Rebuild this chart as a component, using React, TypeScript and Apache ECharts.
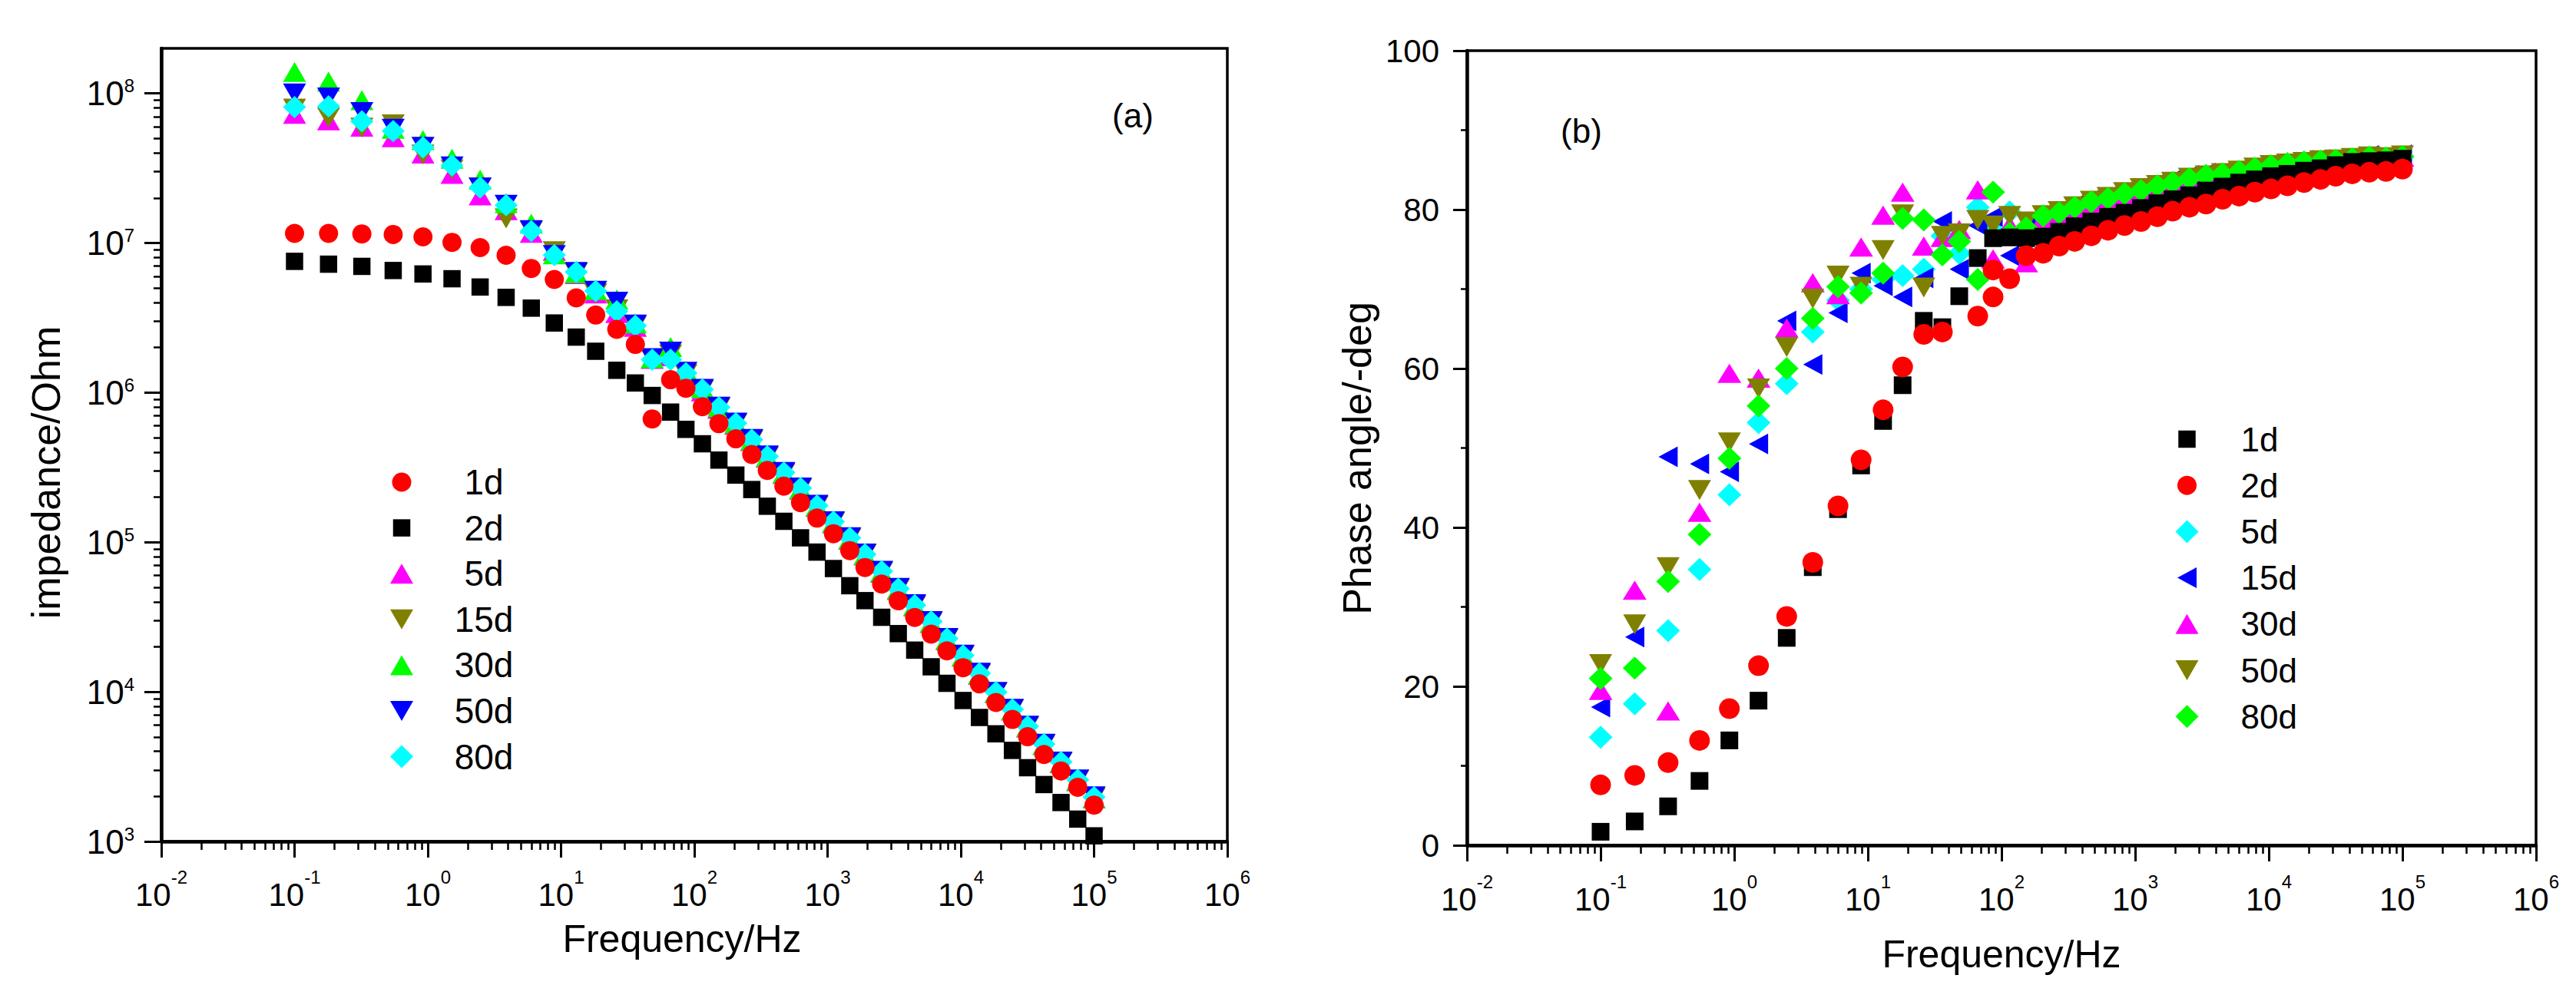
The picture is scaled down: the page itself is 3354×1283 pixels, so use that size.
import React, { useEffect, useRef } from 'react';
import * as echarts from 'echarts';

// ---------- shared frequency list (Hz) ----------
const freq = [0.1, 0.18, 0.32, 0.55, 0.92, 1.52, 2.47, 3.87, 5.98, 8.9, 13.0, 18.2, 26.2, 36.1, 48.3, 66.4, 86.5, 115, 153, 205, 270, 353, 470, 627, 833, 1107, 1468, 1909, 2548, 3394, 4509, 5995, 7870, 10400, 13800, 18350, 24400, 31700, 42100, 56500, 75400, 100000];

// ---------- panel (a): |Z| / Ohm ----------
const imp1d = [1.16e7, 1.16e7, 1.15e7, 1.14e7, 1.10e7, 1.01e7, 9.32e6, 8.28e6, 6.76e6, 5.71e6, 4.30e6, 3.30e6, 2.65e6, 2.10e6, 6.67e5, 1.22e6, 1.07e6, 8.05e5, 6.20e5, 4.91e5, 3.86e5, 3.02e5, 2.37e5, 1.84e5, 1.45e5, 1.14e5, 8.79e4, 6.78e4, 5.25e4, 4.06e4, 3.14e4, 2.43e4, 1.88e4, 1.45e4, 1.13e4, 8.49e3, 6.54e3, 5.01e3, 3.81e3, 2.96e3, 2.30e3, 1.75e3];
const imp2d = [7.54e6, 7.22e6, 6.98e6, 6.55e6, 6.21e6, 5.77e6, 5.08e6, 4.33e6, 3.67e6, 2.92e6, 2.35e6, 1.89e6, 1.41e6, 1.16e6, 9.57e5, 7.41e5, 5.68e5, 4.55e5, 3.54e5, 2.81e5, 2.25e5, 1.74e5, 1.38e5, 1.07e5, 8.59e4, 6.67e4, 5.12e4, 4.07e4, 3.15e4, 2.45e4, 1.90e4, 1.47e4, 1.14e4, 8.75e3, 6.74e3, 5.24e3, 4.06e3, 3.11e3, 2.40e3, 1.82e3, 1.41e3, 1.09e3];
const imp5d = [7.3e7, 6.6e7, 6.0e7, 5.1e7, 3.96e7, 2.9e7, 2.08e7, 1.66e7, 1.17e7, 8.85e6, 6.2e6, 4.6e6, 3.4e6, 2.75e6, 1.68e6, 1.75e6, 1.3e6, 1.02e6, 7.8e5, 6.1e5, 4.75e5, 3.68e5, 2.86e5, 2.25e5, 1.72e5, 1.34e5, 1.04e5, 8.15e4, 6.25e4, 4.8e4, 3.73e4, 2.88e4, 2.22e4, 1.72e4, 1.3e4, 9.8e3, 7.5e3, 5.78e3, 4.4e3, 3.34e3, 2.53e3, 1.94e3];
const imp15d = [7.9e7, 6.9e7, 5.9e7, 6.2e7, 3.9e7, 3.1e7, 2.35e7, 1.46e7, 1.2e7, 8.8e6, 6.3e6, 4.6e6, 3.6e6, 2.8e6, 1.68e6, 1.8e6, 1.33e6, 1.04e6, 7.9e5, 6.2e5, 4.8e5, 3.74e5, 2.9e5, 2.28e5, 1.75e5, 1.36e5, 1.06e5, 8.3e4, 6.35e4, 4.88e4, 3.78e4, 2.93e4, 2.26e4, 1.75e4, 1.32e4, 9.9e3, 7.6e3, 5.86e3, 4.45e3, 3.38e3, 2.57e3, 1.96e3];
const imp30d = [1.39e8, 1.2e8, 9.0e7, 5.8e7, 4.87e7, 3.66e7, 2.65e7, 1.85e7, 1.35e7, 8.4e6, 6.3e6, 4.85e6, 4.2e6, 2.9e6, 1.7e6, 2.02e6, 1.4e6, 1.07e6, 8.0e5, 6.2e5, 4.8e5, 3.72e5, 2.88e5, 2.27e5, 1.74e5, 1.35e5, 1.05e5, 8.2e4, 6.3e4, 4.85e4, 3.76e4, 2.9e4, 2.24e4, 1.73e4, 1.31e4, 9.85e3, 7.55e3, 5.82e3, 4.42e3, 3.36e3, 2.55e3, 1.95e3];
const imp50d = [1.0e8, 9.4e7, 7.5e7, 5.8e7, 4.4e7, 3.25e7, 2.35e7, 1.8e7, 1.22e7, 8.3e6, 6.4e6, 4.8e6, 4.05e6, 2.85e6, 1.7e6, 1.88e6, 1.38e6, 1.06e6, 8.05e5, 6.3e5, 4.9e5, 3.8e5, 2.95e5, 2.32e5, 1.78e5, 1.38e5, 1.08e5, 8.4e4, 6.45e4, 4.95e4, 3.85e4, 2.97e4, 2.29e4, 1.77e4, 1.34e4, 1.0e4, 7.7e3, 5.93e3, 4.5e3, 3.42e3, 2.6e3, 2.0e3];
const imp80d = [8.1e7, 8.2e7, 6.5e7, 5.6e7, 4.36e7, 3.3e7, 2.35e7, 1.79e7, 1.2e7, 8.3e6, 6.4e6, 4.78e6, 3.49e6, 2.8e6, 1.66e6, 1.66e6, 1.35e6, 1.05e6, 7.98e5, 6.25e5, 4.85e5, 3.76e5, 2.92e5, 2.3e5, 1.76e5, 1.37e5, 1.07e5, 8.3e4, 6.4e4, 4.9e4, 3.8e4, 2.95e4, 2.27e4, 1.75e4, 1.33e4, 9.97e3, 7.64e3, 5.89e3, 4.47e3, 3.4e3, 2.58e3, 1.98e3];

// ---------- panel (b): phase angle / -deg ----------
const phase1d = [1.7, 3.0, 4.9, 8.1, 13.2, 18.2, 26.1, 35.0, 42.3, 47.8, 53.4, 57.9, 66.0, 65.2, 69.1, 73.9, 76.4, 76.5, 76.4, 76.6, 77.2, 77.9, 78.5, 79.1, 79.6, 80.2, 80.8, 81.3, 81.8, 82.4, 82.9, 83.4, 83.8, 84.2, 84.5, 84.9, 85.2, 85.6, 86.0, 86.1, 86.2, 86.4];
const phase2d: (number | null)[] = [7.6, 8.8, 10.4, 13.2, 17.2, 22.6, 28.8, 35.6, 42.7, 48.5, 54.8, 60.2, 64.3, 64.6, null, 66.6, 69.0, 71.3, 74.2, 74.5, 75.4, 76.0, 76.7, 77.4, 78.0, 78.5, 79.1, 79.8, 80.3, 80.7, 81.3, 81.7, 82.2, 82.6, 83.0, 83.4, 83.8, 84.2, 84.5, 84.7, 84.8, 85.1];
const phase2dRepeat: [number, number][] = [[86.5, 72.4]];
const phase5d = [13.6, 17.8, 27.0, 34.7, 44.1, 53.2, 58.1, 64.6, 68.6, 70.0, 71.2, 71.7, 72.5, 76.7, 74.5, 80.3, 77.4, 79.7, 77.5, 78.8, 79.3, 80.0, 80.7, 81.2, 81.8, 82.2, 82.8, 83.2, 83.7, 84.1, 84.4, 84.7, 85.1, 85.4, 85.7, 85.9, 86.0, 86.1, 86.3, 86.5, 86.4, 86.6];
const phase15d = [17.4, 26.2, 48.9, 48.0, 47.0, 50.5, 66.0, 60.5, 67.0, 72.0, 70.4, 69.0, 71.4, 78.5, 72.5, 78.0, 79.1, 74.2, 78.0, 79.4, 79.9, 80.6, 81.3, 81.7, 82.3, 82.8, 83.4, 83.8, 84.3, 84.6, 84.8, 85.1, 85.4, 85.7, 86.0, 86.2, 86.3, 86.4, 86.6, 86.8, 86.7, 86.9];
const phase30d = [19.5, 32.1, 16.9, 41.9, 59.4, 58.8, 65.1, 70.8, 69.3, 75.3, 79.3, 82.2, 75.4, 76.5, 77.5, 82.5, 73.8, 78.0, 73.3, 78.8, 79.2, 79.9, 80.6, 81.0, 81.6, 82.0, 82.6, 83.0, 83.5, 83.9, 84.2, 84.5, 84.9, 85.2, 85.5, 85.8, 85.9, 86.1, 86.3, 86.5, 86.4, 86.6];
const phase50d = [22.8, 27.8, 35.0, 44.7, 50.7, 57.5, 62.7, 68.8, 71.7, 70.3, 74.9, 79.4, 70.2, 76.7, 77.0, 78.7, 78.0, 79.2, 78.5, 79.3, 79.8, 80.4, 81.1, 81.6, 82.2, 82.7, 83.1, 83.5, 84.0, 84.3, 84.6, 84.9, 85.3, 85.6, 85.8, 86.0, 86.2, 86.3, 86.5, 86.7, 86.6, 86.8];
const phase80d = [21.0, 22.3, 33.2, 39.1, 48.7, 55.3, 60.0, 66.3, 70.3, 69.5, 72.0, 78.9, 78.7, 74.3, 76.0, 71.2, 82.2, 77.0, 77.7, 79.2, 79.6, 80.3, 81.0, 81.4, 82.0, 82.4, 83.0, 83.4, 83.9, 84.3, 84.5, 84.8, 85.2, 85.5, 85.8, 86.0, 86.1, 86.2, 86.4, 86.6, 86.5, 86.7];

// ---------- tick values / labels ----------
const freqTicks = [1e-2, 1e-1, 1, 1e1, 1e2, 1e3, 1e4, 1e5, 1e6];
const impTicks = [1e3, 1e4, 1e5, 1e6, 1e7, 1e8];
const legendNames = ['1d', '2d', '5d', '15d', '30d', '50d', '80d'];

const FONT = '"Liberation Sans", Arial, Helvetica, sans-serif';

const ICON = {
  circle: 'path://M0,0M30,30M2.5,15A12.5,12.5,0,1,1,27.5,15A12.5,12.5,0,1,1,2.5,15Z',
  square: 'path://M0,0M30,30M3.75,3.75H26.25V26.25H3.75Z',
  up: 'path://M0,0M30,30M15,2L30,28H0Z',
  down: 'path://M0,0M30,30M0,2H30L15,28Z',
  diamond: 'path://M15,0L30,15L15,30L0,15Z',
  left: 'path://M0,0M30,30M2.5,15L27.5,1.5V28.5Z',
};

function pairs(xs: number[], ys: (number | null)[]): [number, number][] {
  const out: [number, number][] = [];
  xs.forEach((x, i) => {
    const y = ys[i];
    if (y != null) out.push([x, y]);
  });
  return out;
}

function logLabel(v: number): string {
  const l = Math.log10(v);
  const e = Math.round(l);
  if (Math.abs(l - e) > 1e-6) return '';
  return '{b|10}{s|' + e + '}';
}

function sc(name: string, data: any[], color: string, symbol: string, size: any, rotate = 0) {
  return {
    type: 'scatter',
    name,
    data,
    symbol,
    symbolSize: size,
    symbolRotate: rotate,
    itemStyle: { color, opacity: 1 },
    clip: false,
    silent: true,
    emphasis: { disabled: true },
  };
}

const axisLineStyle = { show: true, onZero: false, lineStyle: { color: '#000', width: 4.5 } };

function freqAxis(margin: number, nameGap: number, namePadding: number[]) {
  return {
    type: 'log',
    logBase: 10,
    min: 0.01,
    max: 1e6,
    splitNumber: 8,
    name: 'Frequency/Hz',
    nameLocation: 'middle',
    nameGap,
    nameTextStyle: { fontFamily: FONT, fontSize: 50, color: '#000', padding: namePadding },
    axisLine: axisLineStyle,
    axisTick: { show: true, inside: false, length: 21, lineStyle: { color: '#000', width: 3 }, customValues: freqTicks },
    minorTick: { show: true, splitNumber: 9, length: 11, lineStyle: { color: '#000', width: 2.5 } },
    axisLabel: {
      show: true,
      margin,
      formatter: logLabel,
      customValues: freqTicks,
      rich: {
        b: { fontFamily: FONT, fontSize: 42, lineHeight: 56, verticalAlign: 'bottom', color: '#000' },
        s: { fontFamily: FONT, fontSize: 24, lineHeight: 24, verticalAlign: 'top', color: '#000' },
      },
    },
    splitLine: { show: false },
    minorSplitLine: { show: false },
  };
}

const optionA: any = {
  animation: false,
  backgroundColor: '#fff',
  grid: { left: 210, top: 63, width: 1388, height: 1033, show: true, borderColor: '#000', borderWidth: 3.5, backgroundColor: 'transparent' },
  xAxis: freqAxis(34, 102, [0, 32, 0, 0]),
  yAxis: {
    type: 'log',
    logBase: 10,
    min: 1e3,
    max: 2e8,
    splitNumber: 5,
    name: 'impedance/Ohm',
    nameLocation: 'middle',
    nameGap: 124,
    nameTextStyle: { fontFamily: FONT, fontSize: 52, color: '#000', padding: [0, 72, 0, 0] },
    axisLine: axisLineStyle,
    axisTick: { show: true, inside: false, length: 22, lineStyle: { color: '#000', width: 3 }, customValues: impTicks },
    minorTick: { show: true, splitNumber: 9, length: 10, lineStyle: { color: '#000', width: 2.5 } },
    axisLabel: {
      show: true,
      margin: 35,
      formatter: logLabel,
      customValues: impTicks,
      rich: {
        b: { fontFamily: FONT, fontSize: 44, lineHeight: 44, color: '#000' },
        s: { fontFamily: FONT, fontSize: 24, lineHeight: 24, verticalAlign: 'top', color: '#000' },
      },
    },
    splitLine: { show: false },
    minorSplitLine: { show: false },
  },
  legend: {
    orient: 'vertical',
    left: 503,
    top: 600,
    itemWidth: 30,
    itemHeight: 30,
    itemGap: 13.6,
    symbolRotate: 0,
    selectedMode: false,
    formatter: '{t|{name}}',
    textStyle: {
      color: '#000',
      rich: { t: { fontFamily: FONT, fontSize: 46, lineHeight: 30, width: 174, align: 'center', color: '#000' } },
    },
    data: [
      { name: '1d', icon: ICON.circle, symbolRotate: 0 },
      { name: '2d', icon: ICON.square, symbolRotate: 0 },
      { name: '5d', icon: ICON.up, symbolRotate: 0 },
      { name: '15d', icon: ICON.down, symbolRotate: 0 },
      { name: '30d', icon: ICON.up, symbolRotate: 0 },
      { name: '50d', icon: ICON.down, symbolRotate: 0 },
      { name: '80d', icon: ICON.diamond, symbolRotate: 0 },
    ],
  },
  graphic: [
    {
      type: 'text',
      x: 1475,
      y: 150,
      style: { text: '(a)', fontFamily: FONT, fontSize: 44, fill: '#000', align: 'center', verticalAlign: 'middle', textAlign: 'center', textVerticalAlign: 'middle' },
    },
  ],
  series: [
    sc(legendNames[1], pairs(freq, imp2d), '#000000', 'rect', 22.5),
    sc(legendNames[2], pairs(freq, imp5d), '#ff00ff', 'triangle', [30, 26]),
    sc(legendNames[3], pairs(freq, imp15d), '#808000', 'triangle', [30, 26], 180),
    sc(legendNames[4], pairs(freq, imp30d), '#00ff00', 'triangle', [30, 26]),
    sc(legendNames[5], pairs(freq, imp50d), '#0000ff', 'triangle', [30, 26], 180),
    sc(legendNames[6], pairs(freq, imp80d), '#00ffff', 'diamond', [30, 29]),
    sc(legendNames[0], pairs(freq, imp1d), '#ff0000', 'circle', 25),
  ],
};

const optionB: any = {
  animation: false,
  backgroundColor: '#fff',
  grid: { left: 233, top: 66, width: 1392, height: 1035, show: true, borderColor: '#000', borderWidth: 3.5, backgroundColor: 'transparent' },
  xAxis: freqAxis(35, 117, [0, 0, 0, 0]),
  yAxis: {
    type: 'value',
    min: 0,
    max: 100,
    interval: 20,
    name: 'Phase angle/-deg',
    nameLocation: 'middle',
    nameGap: 113,
    nameTextStyle: { fontFamily: FONT, fontSize: 52, color: '#000', padding: [0, 27, 0, 0] },
    axisLine: axisLineStyle,
    axisTick: { show: true, inside: false, length: 18, lineStyle: { color: '#000', width: 3 } },
    minorTick: { show: true, splitNumber: 2, length: 8, lineStyle: { color: '#000', width: 2.5 } },
    axisLabel: { show: true, margin: 36, fontFamily: FONT, fontSize: 42, color: '#000' },
    splitLine: { show: false },
    minorSplitLine: { show: false },
  },
  legend: {
    orient: 'vertical',
    left: 1150.5,
    top: 545,
    itemWidth: 30,
    itemHeight: 30,
    itemGap: 16.2,
    symbolRotate: 0,
    selectedMode: false,
    formatter: '{t|{name}}',
    textStyle: {
      color: '#000',
      rich: { t: { fontFamily: FONT, fontSize: 44, lineHeight: 30, padding: [0, 0, 0, 50], color: '#000' } },
    },
    data: [
      { name: '1d', icon: ICON.square, symbolRotate: 0 },
      { name: '2d', icon: ICON.circle, symbolRotate: 0 },
      { name: '5d', icon: ICON.diamond, symbolRotate: 0 },
      { name: '15d', icon: ICON.left, symbolRotate: 0 },
      { name: '30d', icon: ICON.up, symbolRotate: 0 },
      { name: '50d', icon: ICON.down, symbolRotate: 0 },
      { name: '80d', icon: ICON.diamond, symbolRotate: 0 },
    ],
  },
  graphic: [
    {
      type: 'text',
      x: 382,
      y: 170,
      style: { text: '(b)', fontFamily: FONT, fontSize: 44, fill: '#000', align: 'center', verticalAlign: 'middle', textAlign: 'center', textVerticalAlign: 'middle' },
    },
  ],
  series: [
    sc(legendNames[2], pairs(freq, phase5d), '#00ffff', 'diamond', [31, 30]),
    sc(legendNames[3], pairs(freq, phase15d), '#0000ff', 'triangle', [27, 25], 90),
    sc(legendNames[4], pairs(freq, phase30d), '#ff00ff', 'triangle', [31, 25]),
    sc(legendNames[5], pairs(freq, phase50d), '#808000', 'triangle', [30, 26], 180),
    sc(legendNames[6], pairs(freq, phase80d), '#00ff00', 'diamond', [31, 30]),
    sc(legendNames[0], pairs(freq, phase1d), '#000000', 'rect', 23),
    sc(legendNames[1], pairs(freq, phase2d).concat(phase2dRepeat), '#ff0000', 'circle', 27),
  ],
};

export default function App() {
  const refA = useRef<HTMLDivElement>(null);
  const refB = useRef<HTMLDivElement>(null);
  useEffect(() => {
    const a = echarts.init(refA.current as HTMLDivElement, null, { renderer: 'svg' });
    const b = echarts.init(refB.current as HTMLDivElement, null, { renderer: 'svg' });
    a.setOption(optionA);
    b.setOption(optionB);
    return () => {
      a.dispose();
      b.dispose();
    };
  }, []);
  return (
    <div style={{ position: 'absolute', left: 0, top: 0, width: 3354, height: 1283, background: '#fff' }}>
      <div ref={refA} style={{ position: 'absolute', left: 0, top: 0, width: 1677, height: 1283 }} />
      <div ref={refB} style={{ position: 'absolute', left: 1677, top: 0, width: 1677, height: 1283 }} />
    </div>
  );
}
